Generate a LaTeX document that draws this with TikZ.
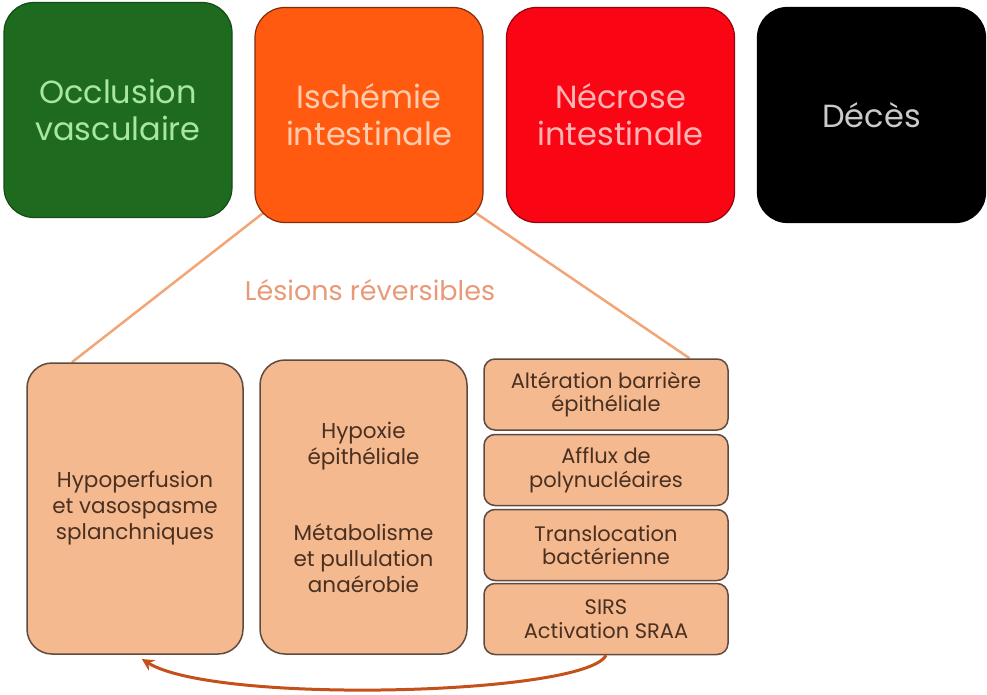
\documentclass[tikz,border=0pt]{standalone}
\usepackage{fontspec}
\setmainfont{Poppins}
\usetikzlibrary{calc,arrows.meta,backgrounds}
\definecolor{occlgreen}{HTML}{1E6B1F}
\definecolor{occltext}{HTML}{A9E6A0}
\definecolor{ischorange}{HTML}{FF5A10}
\definecolor{ischtext}{HTML}{FFCDAE}
\definecolor{necrred}{HTML}{FA0514}
\definecolor{necrtext}{HTML}{FFB4B4}
\definecolor{decestext}{HTML}{CACACA}
\definecolor{peach}{HTML}{F5B990}
\definecolor{peachedge}{HTML}{5E4A40}
\definecolor{peachtext}{HTML}{4A3020}
\definecolor{linkline}{HTML}{F2A677}
\definecolor{lesiontext}{HTML}{E89A78}
\definecolor{backarrow}{HTML}{C4501A}

\tikzset{
	stage/.style={rounded corners=30pt, line width=1.2pt, minimum width=228pt, minimum height=215pt,
		align=center, font=\fontsize{32}{37}\selectfont},
	lesion/.style={rounded corners=25pt, draw=peachedge, fill=peach, line width=1.5pt, text=peachtext,
		align=center, font=\fontsize{21.5}{26}\selectfont},
	effect/.style={rounded corners=11pt, draw=peachedge, fill=peach, line width=1.5pt, text=peachtext,
		minimum width=244pt, minimum height=71pt, align=center, font=\fontsize{21}{23.5}\selectfont},
}

\begin{document}
\begin{tikzpicture}[x=1pt, y=-1pt]
	\useasboundingbox (0, 0) rectangle (987, 695);
	
	%%%%% STAGES %%%%%
	\node[stage, fill=occlgreen, draw=occlgreen!70!black, text=occltext] (occl) at (118, 110) {Occlusion\\vasculaire};
	\node[stage, fill=ischorange, draw=ischorange!50!black, text=ischtext] (isch) at (369, 115) {Ischémie\\intestinale};
	\node[stage, fill=necrred, draw=necrred!60!black, text=necrtext] (necr) at (620.5, 115) {Nécrose\\intestinale};
	\node[stage, fill=black, draw=black, text=decestext] (deces) at (871.5, 115) {Décès};
	
	\node[text=lesiontext, font=\fontsize{27}{32}\selectfont] (revers) at (370, 290) {Lésions réversibles};
	
	%%%%% LESIONS %%%%%
	\node[lesion, minimum width=216pt, minimum height=291pt] (hypo) at (135, 508.5)
		{Hypoperfusion\\et vasospasme\\splanchniques};
	\node[lesion, minimum width=207pt, minimum height=294pt] (hypox) at (363.5, 507)
		{Hypoxie\\épithéliale\\[50pt]Métabolisme\\et pullulation\\anaérobie};
	
	\node[effect] (alter) at (606, 394.5) {Altération barrière\\épithéliale};
	\node[effect] (afflux) at (606, 470) {Afflux de\\polynucléaires};
	\node[effect] (transl) at (606, 545) {Translocation\\bactérienne};
	\node[effect] (sirs) at (606, 619) {SIRS\\Activation SRAA};
	
	%%%%% LINKS %%%%%
	\begin{scope}[on background layer]
		\draw[linkline, line width=2.5pt] ($(isch.south west)+(15, -15)$) -- ($(hypo.north west)!0.21!(hypo.north east)$);
		\draw[linkline, line width=2.5pt] ($(isch.south east)+(-15, -15)$) -- ($(alter.north west)!0.84!(alter.north east)$);
	\end{scope}
	
	\draw[backarrow, line width=3pt, -{Stealth[length=12pt, width=12pt]}, shorten >=8pt]
		(sirs.south) .. controls +(-20, 40) and +(80, 50) .. (hypo.south);
	
\end{tikzpicture}
\end{document}
